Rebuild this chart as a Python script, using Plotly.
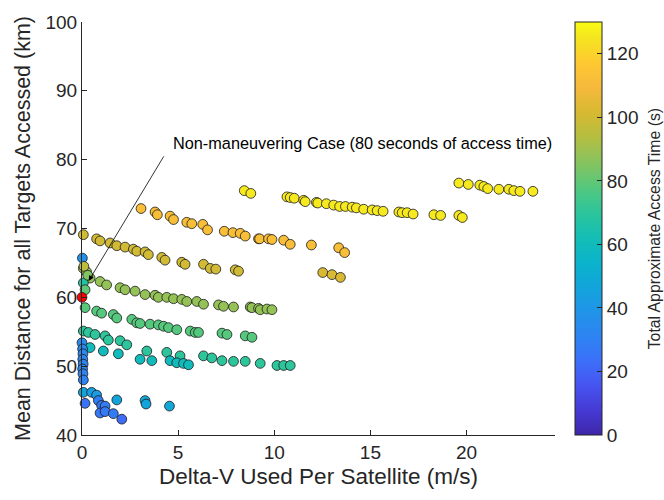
import plotly.graph_objects as go

# ---- data ----
# top yellow band (~125 s)
x_top = [8.44, 8.78, 10.66, 10.83, 11.04, 11.53, 11.61, 12.19, 12.26, 12.71, 13.09, 13.40, 13.70,
         14.05, 14.27, 14.65, 15.09, 15.35, 15.66, 16.48, 16.65, 16.91, 17.22, 18.30, 18.65, 19.60, 19.78,
         19.60, 20.09, 20.69, 20.90, 21.10, 21.68, 22.20, 22.46, 22.78, 23.45]
y_top = [75.5, 75.1, 74.6, 74.5, 74.4, 74.1, 73.9, 73.8, 73.7, 73.6, 73.4, 73.2, 73.2,
         73.1, 73.0, 72.8, 72.7, 72.6, 72.5, 72.4, 72.3, 72.3, 72.1, 72.0, 71.9, 71.9, 71.6,
         76.6, 76.4, 76.3, 76.1, 75.8, 75.7, 75.7, 75.5, 75.4, 75.4]
c_top = [126] * 37

# orange band (~112 s)
x_a = [3.07, 3.80, 3.92, 4.58, 4.76, 5.45, 5.71, 6.28, 6.53, 7.40, 7.85, 8.23, 8.49, 9.18, 9.24,
       9.70, 9.88, 10.49, 10.83, 11.93, 13.35, 13.66]
y_a = [72.9, 72.4, 72.0, 71.8, 71.3, 70.9, 70.7, 70.6, 69.8, 69.6, 69.4, 69.3, 68.9, 68.5, 68.5,
       68.5, 68.4, 68.3, 67.7, 67.6, 67.2, 66.5]
c_a = [112] * 22

# olive band (~100 s)
x_b = [0.07, 0.76, 0.94, 1.46, 1.81, 2.24, 2.67, 2.85, 3.28, 3.45, 4.15, 4.32, 5.19, 5.36, 6.32,
       6.67, 6.96, 7.97, 8.14, 12.52, 13.00, 13.44]
y_b = [69.1, 68.5, 68.2, 67.9, 67.5, 67.3, 67.0, 66.7, 66.6, 66.2, 65.8, 65.4, 65.1, 64.8, 64.8,
       64.2, 64.1, 64.0, 63.8, 63.6, 63.3, 62.9]
c_b = [100] * 19 + [102, 102, 102]

# light green band (~88 s)
x_c = [0.07, 0.24, 0.42, 0.94, 1.28, 1.98, 2.24, 2.76, 3.28, 3.80, 3.97, 4.41, 4.76, 5.19, 5.45,
       5.97, 6.32, 7.10, 7.36, 7.88, 8.75, 8.84, 9.18, 9.27, 9.62, 9.88]
y_c = [64.2, 63.7, 62.8, 62.3, 61.8, 61.4, 61.1, 60.9, 60.4, 60.3, 60.0, 60.0, 59.8, 59.7, 59.4,
       59.4, 59.0, 58.9, 58.7, 58.6, 58.6, 58.5, 58.4, 58.2, 58.3, 58.2]
c_c = [92, 88] + [88] * 24

# green band (~78 s)
x_d = [0.16, 0.76, 1.02, 1.63, 1.81, 2.59, 2.85, 3.02, 3.54, 3.97, 4.24, 4.50, 4.93, 5.63, 5.89,
       6.06, 7.28, 7.54, 8.49, 8.84]
y_d = [58.5, 58.0, 57.7, 57.5, 57.0, 56.8, 56.3, 56.2, 56.1, 56.0, 55.8, 55.6, 55.3, 55.1, 54.9,
       54.9, 54.8, 54.6, 54.4, 54.2]
c_d = [78] * 20

# teal band (~70 s)
x_e = [0.07, 0.33, 0.68, 1.20, 1.37, 1.98, 2.33, 3.37, 4.41, 5.10, 6.32, 6.75, 7.28, 7.88, 8.49,
       9.27, 10.14, 10.49, 10.83]
y_e = [55.1, 54.9, 54.6, 54.4, 53.8, 53.7, 53.1, 52.2, 52.0, 51.5, 51.5, 51.2, 50.8, 50.7, 50.7,
       50.4, 50.1, 50.1, 50.1]
c_e = [70] * 19

# cyan band (~60 s)
x_f = [0.42, 1.11, 1.89, 3.02, 3.63, 4.58, 4.93, 5.28, 5.54]
y_f = [52.7, 52.2, 51.8, 51.0, 50.8, 50.8, 50.5, 50.4, 50.2]
c_f = [60] * 9

# blue points near zero Delta-V and lower cluster
x_g = [0.02, 0.00, 0.03, 0.05, 0.04, 0.06, 0.03, 0.05, 0.07,
       0.07, 0.50, 0.76, 1.81, 3.28, 3.33, 4.55,
       0.16, 0.85, 1.02, 1.20, 0.94, 1.20, 1.63, 2.07]
y_g = [65.7, 53.4, 52.5, 51.8, 51.0, 50.3, 49.6, 48.9, 48.0,
       46.2, 46.2, 45.8, 45.1, 45.0, 44.5, 44.2,
       44.6, 45.0, 44.3, 44.2, 43.2, 43.4, 43.1, 42.3]
c_g = [38, 35, 34, 33, 33, 32, 32, 31, 31,
       46, 43, 42, 46, 48, 46, 48,
       25, 29, 27, 28, 26, 27, 28, 22]

# other near-zero points
x_h = [0.10, 0.07, 0.16, 0.30]
y_h = [64.5, 62.1, 61.1, 63.2]
c_h = [95, 68, 80, 85]

# non-maneuvering case
x_red = [0.0]
y_red = [60.0]

x_all = x_top + x_a + x_b + x_c + x_d + x_e + x_f + x_g + x_h
y_all = y_top + y_a + y_b + y_c + y_d + y_e + y_f + y_g + y_h
c_all = c_top + c_a + c_b + c_c + c_d + c_e + c_f + c_g + c_h

# parula-like colour map
parula_stops = [0.00, 0.06, 0.12, 0.18, 0.24, 0.30, 0.36, 0.42, 0.48, 0.54, 0.60, 0.66, 0.72, 0.78,
                0.84, 0.90, 0.96, 1.00]
parula_rgb = [(62, 38, 168), (70, 58, 212), (71, 84, 240), (60, 112, 250), (45, 132, 242),
              (32, 148, 232), (18, 165, 218), (10, 180, 202), (20, 190, 180), (45, 197, 155),
              (85, 200, 125), (135, 195, 95), (180, 190, 65), (215, 185, 50), (245, 185, 60),
              (254, 200, 50), (245, 228, 32), (249, 251, 20)]
colorscale = [[s, "rgb(%d,%d,%d)" % c] for s, c in zip(parula_stops, parula_rgb)]

FONT = "Liberation Sans, Arial, Helvetica, sans-serif"
AX = "#262626"

fig = go.Figure()
fig.add_trace(go.Scatter(
    x=x_all, y=y_all, mode="markers", cliponaxis=False,
    marker=dict(size=9.8, color=c_all, colorscale=colorscale, cmin=0, cmax=130,
                line=dict(color="#1a1a1a", width=0.8),
                colorbar=dict(x=1.042, xanchor="left", xpad=0, ypad=0, thickness=27,
                              len=1, lenmode="fraction", y=0, yanchor="bottom",
                              outlinecolor=AX, outlinewidth=1,
                              ticks="inside", ticklen=5, tickcolor=AX,
                              tickvals=[0, 20, 40, 60, 80, 100, 120],
                              tickfont=dict(family=FONT, size=19, color=AX))),
    showlegend=False, hoverinfo="skip"))
fig.add_trace(go.Scatter(
    x=x_red, y=y_red, mode="markers", cliponaxis=False,
    marker=dict(size=9.8, color="#ff0000", line=dict(color="#1a1a1a", width=0.8)),
    showlegend=False, hoverinfo="skip"))

fig.add_annotation(x=0.35, y=62.4, ax=4.3, ay=80.7, xref="x", yref="y", axref="x", ayref="y",
                   showarrow=True, arrowhead=2, arrowsize=1.3, arrowwidth=0.8, arrowcolor="#000000",
                   text="", standoff=0)
fig.add_annotation(x=4.65, y=82.4, xref="x", yref="y", xanchor="left", yanchor="middle",
                   text="Non-maneuvering Case (80 seconds of access time)", showarrow=False,
                   font=dict(family=FONT, size=16.3, color="#000000"))
# colorbar title
fig.add_annotation(x=1.211, y=0.5, xref="paper", yref="paper", xanchor="center", yanchor="middle",
                   text="Total Approximate Access Time (s)", textangle=-90, showarrow=False,
                   font=dict(family=FONT, size=15.8, color=AX))

fig.update_layout(
    width=664, height=500, margin=dict(l=82, r=109, t=18, b=65),
    paper_bgcolor="white", plot_bgcolor="white",
    font=dict(family=FONT, color=AX),
    xaxis=dict(range=[0, 24.6], tickvals=[0, 5, 10, 15, 20], ticks="inside", ticklen=5,
               tickcolor=AX, showline=True, linecolor=AX, linewidth=1, showgrid=False,
               zeroline=False, tickfont=dict(size=19, color=AX),
               title=dict(text="Delta-V Used Per Satellite (m/s)", font=dict(size=22.5, color=AX),
                          standoff=6)),
    yaxis=dict(range=[40, 100], tickvals=[40, 50, 60, 70, 80, 90, 100], ticks="inside", ticklen=5,
               tickcolor=AX, showline=True, linecolor=AX, linewidth=1, showgrid=False,
               zeroline=False, tickfont=dict(size=19, color=AX),
               title=dict(text="Mean Distance for all Targets Accessed (km)",
                          font=dict(size=21.5, color=AX), standoff=8)),
)

fig.write_html("out.html")
